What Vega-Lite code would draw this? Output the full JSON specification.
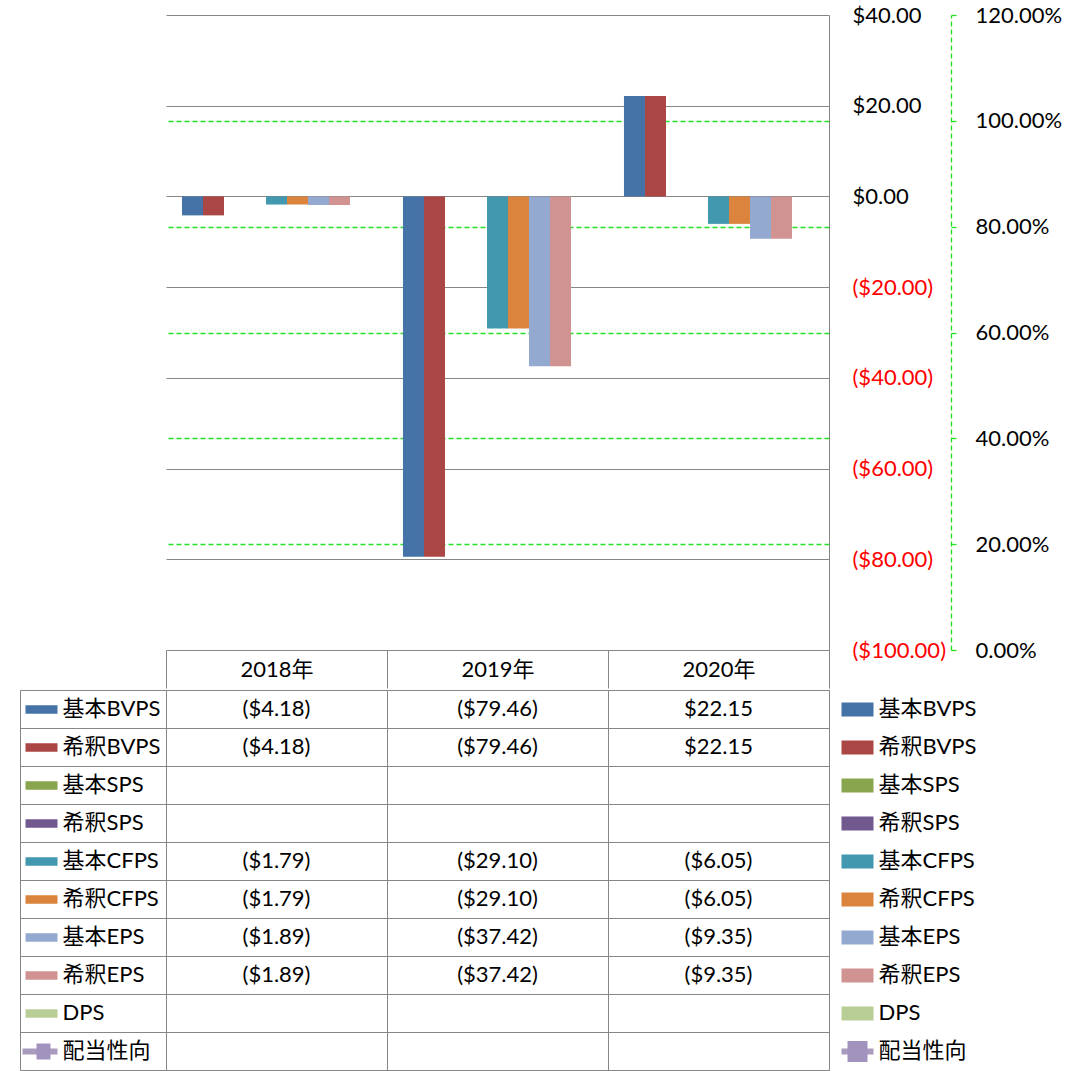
{
  "$schema": "https://vega.github.io/schema/vega-lite/v6.json",
  "background": "white",
  "padding": {"left": 18, "top": 4, "right": 0, "bottom": 0},
  "spacing": 0,
  "datasets": {
    "cells": [
      {"series": "基本BVPS", "year": "2018年", "value": -4.18},
      {"series": "基本BVPS", "year": "2019年", "value": -79.46},
      {"series": "基本BVPS", "year": "2020年", "value": 22.15},
      {"series": "希釈BVPS", "year": "2018年", "value": -4.18},
      {"series": "希釈BVPS", "year": "2019年", "value": -79.46},
      {"series": "希釈BVPS", "year": "2020年", "value": 22.15},
      {"series": "基本SPS", "year": "2018年", "value": null},
      {"series": "基本SPS", "year": "2019年", "value": null},
      {"series": "基本SPS", "year": "2020年", "value": null},
      {"series": "希釈SPS", "year": "2018年", "value": null},
      {"series": "希釈SPS", "year": "2019年", "value": null},
      {"series": "希釈SPS", "year": "2020年", "value": null},
      {"series": "基本CFPS", "year": "2018年", "value": -1.79},
      {"series": "基本CFPS", "year": "2019年", "value": -29.10},
      {"series": "基本CFPS", "year": "2020年", "value": -6.05},
      {"series": "希釈CFPS", "year": "2018年", "value": -1.79},
      {"series": "希釈CFPS", "year": "2019年", "value": -29.10},
      {"series": "希釈CFPS", "year": "2020年", "value": -6.05},
      {"series": "基本EPS", "year": "2018年", "value": -1.89},
      {"series": "基本EPS", "year": "2019年", "value": -37.42},
      {"series": "基本EPS", "year": "2020年", "value": -9.35},
      {"series": "希釈EPS", "year": "2018年", "value": -1.89},
      {"series": "希釈EPS", "year": "2019年", "value": -37.42},
      {"series": "希釈EPS", "year": "2020年", "value": -9.35},
      {"series": "DPS", "year": "2018年", "value": null},
      {"series": "DPS", "year": "2019年", "value": null},
      {"series": "DPS", "year": "2020年", "value": null},
      {"series": "配当性向", "year": "2018年", "value": null},
      {"series": "配当性向", "year": "2019年", "value": null},
      {"series": "配当性向", "year": "2020年", "value": null}
    ]
  },
  "vconcat": [
    {
      "width": 663,
      "height": 635,
      "view": {"stroke": null},
      "data": {"name": "cells"},
      "layer": [
        {
          "transform": [{"filter": "datum.series !== '配当性向'"}],
          "mark": {"type": "bar"},
          "encoding": {
            "x": {
              "field": "year", "type": "nominal",
              "scale": {"domain": ["2018年", "2019年", "2020年"], "paddingInner": 0, "paddingOuter": 0},
              "axis": {
                "orient": "bottom", "title": null, "labelAngle": 0,
                "tickBand": "extent", "tickSize": 38, "tickColor": "#868686", "tickWidth": 1,
                "domain": false, "grid": false,
                "labelPadding": -19, "labelBaseline": "middle", "labelFontSize": 22, "labelColor": "black"
              }
            },
            "xOffset": {
              "field": "series", "type": "nominal",
              "scale": {"domain": ["基本BVPS", "希釈BVPS", "基本SPS", "希釈SPS", "基本CFPS", "希釈CFPS", "基本EPS", "希釈EPS", "DPS"], "paddingInner": 0, "paddingOuter": 0.76}
            },
            "y": {
              "field": "value", "type": "quantitative",
              "scale": {"domain": [-100, 40], "nice": false, "zero": false},
              "axis": {
                "orient": "right", "title": null,
                "values": [-100, -80, -60, -40, -20, 0, 20, 40],
                "format": "($.2f",
                "ticks": false, "domain": true, "domainColor": "#868686",
                "grid": true, "gridColor": "#868686", "gridWidth": 1,
                "labelPadding": 23, "labelFontSize": 22,
                "labelColor": {"condition": {"test": "datum.value < 0", "value": "#FF0000"}, "value": "black"}
              }
            },
            "color": {
              "field": "series", "type": "nominal", "legend": null,
              "scale": {
                "domain": ["基本BVPS", "希釈BVPS", "基本SPS", "希釈SPS", "基本CFPS", "希釈CFPS", "基本EPS", "希釈EPS", "DPS", "配当性向"],
                "range": ["#4572A7", "#AA4643", "#89A54E", "#71588F", "#4198AF", "#DB843D", "#93A9CF", "#D19392", "#B9CD96", "#A99BBD"]
              }
            }
          }
        },
        {
          "transform": [{"filter": "datum.series === '配当性向'"}],
          "mark": {"type": "line", "color": "#A99BBD", "strokeWidth": 3},
          "encoding": {
            "x": {"field": "year", "type": "nominal"},
            "y": {
              "field": "value", "type": "quantitative",
              "scale": {"domain": [0, 1.2], "nice": false, "zero": false},
              "axis": {
                "orient": "right", "offset": 122, "title": null,
                "values": [0, 0.2, 0.4, 0.6, 0.8, 1.0, 1.2],
                "format": ".2%",
                "domain": true, "domainColor": "#22E022", "domainDash": [5, 3], "domainWidth": 1.3,
                "ticks": true, "tickSize": 8, "tickColor": "#22E022", "tickDash": [5, 3], "tickWidth": 1.3,
                "grid": true, "gridColor": "#22E022", "gridDash": [5, 3], "gridWidth": 1.5,
                "gridOpacity": {"condition": {"test": "datum.value > 0.01 && datum.value < 1.19", "value": 1}, "value": 0},
                "labelPadding": 16, "labelFontSize": 22, "labelColor": "black"
              }
            }
          }
        }
      ],
      "resolve": {"scale": {"y": "independent"}, "axis": {"y": "independent"}}
    },
    {
      "width": 663,
      "height": 380,
      "view": {"stroke": "#868686"},
      "data": {"name": "cells"},
      "layer": [
        {
          "transform": [{"filter": "datum.value != null"}],
          "mark": {"type": "text", "fontSize": 22, "color": "black"},
          "encoding": {
            "x": {
              "field": "year", "type": "nominal",
              "scale": {"domain": ["2018年", "2019年", "2020年"], "paddingInner": 0, "paddingOuter": 0},
              "axis": {"orient": "top", "title": null, "labels": false, "ticks": false, "domain": false, "grid": true, "tickBand": "extent", "gridColor": "#868686"}
            },
            "y": {
              "field": "series", "type": "nominal",
              "scale": {"domain": ["基本BVPS", "希釈BVPS", "基本SPS", "希釈SPS", "基本CFPS", "希釈CFPS", "基本EPS", "希釈EPS", "DPS", "配当性向"], "paddingInner": 0, "paddingOuter": 0},
              "axis": {
                "orient": "left", "offset": 146, "title": null, "labels": false,
                "domain": true, "domainColor": "#868686",
                "ticks": true, "tickSize": -146, "tickColor": "#868686", "tickBand": "extent",
                "grid": true, "gridColor": "#868686"
              }
            },
            "text": {"field": "value", "type": "quantitative", "format": "($.2f"}
          }
        },
        {
          "mark": {"type": "point", "opacity": 0},
          "encoding": {
            "y": {
              "field": "series", "type": "nominal",
              "axis": {
                "orient": "left", "offset": 109, "title": null,
                "domain": false, "grid": false, "ticks": true, "tickBand": "center",
                "tickSize": {"condition": {"test": "datum.value === '配当性向'", "value": 35}, "value": 32},
                "tickWidth": {"condition": {"test": "datum.value === '配当性向'", "value": 6}, "value": 8.5},
                "tickColor": {"condition": [
                  {"test": "datum.value === '基本BVPS'", "value": "#4572A7"},
                  {"test": "datum.value === '希釈BVPS'", "value": "#AA4643"},
                  {"test": "datum.value === '基本SPS'", "value": "#89A54E"},
                  {"test": "datum.value === '希釈SPS'", "value": "#71588F"},
                  {"test": "datum.value === '基本CFPS'", "value": "#4198AF"},
                  {"test": "datum.value === '希釈CFPS'", "value": "#DB843D"},
                  {"test": "datum.value === '基本EPS'", "value": "#93A9CF"},
                  {"test": "datum.value === '希釈EPS'", "value": "#D19392"},
                  {"test": "datum.value === 'DPS'", "value": "#B9CD96"}
                ], "value": "#A99BBD"},
                "labelAlign": "left", "labelBaseline": "middle",
                "labelPadding": {"condition": {"test": "datum.value === '配当性向'", "value": -40}, "value": -37},
                "labelFontSize": 22, "labelColor": "black"
              }
            }
          }
        },
        {
          "mark": {"type": "point", "opacity": 0},
          "encoding": {
            "y": {
              "field": "series", "type": "nominal",
              "axis": {
                "orient": "left", "offset": 116, "title": null,
                "domain": false, "grid": false, "labels": false, "ticks": true, "tickBand": "center",
                "tickSize": 14, "tickWidth": 16, "tickColor": "#A192BE",
                "tickOpacity": {"condition": {"test": "datum.value === '配当性向'", "value": 1}, "value": 0}
              }
            }
          }
        },
        {
          "mark": {"type": "point", "opacity": 0},
          "encoding": {
            "y": {
              "field": "series", "type": "nominal",
              "axis": {
                "orient": "right", "offset": 12, "title": null,
                "domain": false, "grid": false, "ticks": true, "tickSize": 32, "tickBand": "center",
                "tickWidth": {"condition": {"test": "datum.value === '配当性向'", "value": 6}, "value": 14},
                "tickColor": {"condition": [
                  {"test": "datum.value === '基本BVPS'", "value": "#4572A7"},
                  {"test": "datum.value === '希釈BVPS'", "value": "#AA4643"},
                  {"test": "datum.value === '基本SPS'", "value": "#89A54E"},
                  {"test": "datum.value === '希釈SPS'", "value": "#71588F"},
                  {"test": "datum.value === '基本CFPS'", "value": "#4198AF"},
                  {"test": "datum.value === '希釈CFPS'", "value": "#DB843D"},
                  {"test": "datum.value === '基本EPS'", "value": "#93A9CF"},
                  {"test": "datum.value === '希釈EPS'", "value": "#D19392"},
                  {"test": "datum.value === 'DPS'", "value": "#B9CD96"}
                ], "value": "#A99BBD"},
                "labelAlign": "left", "labelBaseline": "middle", "labelPadding": 5,
                "labelFontSize": 22, "labelColor": "black"
              }
            }
          }
        },
        {
          "mark": {"type": "point", "opacity": 0},
          "encoding": {
            "y": {
              "field": "series", "type": "nominal",
              "axis": {
                "orient": "right", "offset": 18, "title": null,
                "domain": false, "grid": false, "labels": false, "ticks": true, "tickBand": "center",
                "tickSize": 20, "tickWidth": 21, "tickColor": "#A192BE",
                "tickOpacity": {"condition": {"test": "datum.value === '配当性向'", "value": 1}, "value": 0}
              }
            }
          }
        }
      ],
      "resolve": {"axis": {"y": "independent"}}
    }
  ],
  "config": {
    "font": "Lato, 'Noto Sans CJK JP', sans-serif",
    "axis": {"labelFont": "Lato, 'Noto Sans CJK JP', sans-serif", "labelFontSize": 22, "labelColor": "black"},
    "text": {"font": "Lato, 'Noto Sans CJK JP', sans-serif"}
  }
}
